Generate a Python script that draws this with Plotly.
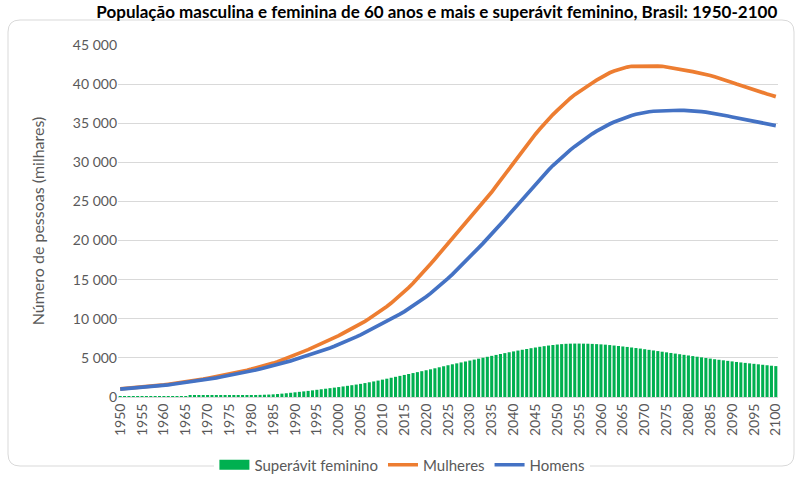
import plotly.graph_objects as go

years = list(range(1950, 2101))

mulheres = [
    1050, 1090, 1130, 1180, 1230, 1280, 1330, 1380, 1440, 1500,
    1560, 1630, 1700, 1770, 1840, 1920, 2000, 2090, 2190, 2290,
    2400, 2500, 2600, 2700, 2800, 2920, 3040, 3160, 3290, 3420,
    3560, 3700, 3850, 4000, 4160, 4330, 4520, 4720, 4930, 5150,
    5380, 5600, 5830, 6060, 6300, 6540, 6790, 7040, 7300, 7570,
    7850, 8150, 8430, 8730, 9040, 9350, 9680, 10030, 10390, 10760,
    11150, 11570, 12010, 12470, 12950, 13450, 13980, 14540, 15120, 15720,
    16350, 17000, 17650, 18300, 18950, 19600, 20250, 20900, 21550, 22200,
    22850, 23500, 24150, 24800, 25480, 26200, 26950, 27700, 28450, 29200,
    29950, 30700, 31450, 32200, 32900, 33600, 34250, 34900, 35500, 36100,
    36650, 37200, 37700, 38200, 38650, 39050, 39450, 39800, 40150, 40500,
    40850, 41150, 41450, 41680, 41880, 42020, 42180, 42280, 42300, 42300,
    42300, 42300, 42300, 42300, 42280, 42200, 42100, 42000, 41900, 41800,
    41700, 41600, 41500, 41400, 41250, 41100, 40930, 40780, 40600, 40420,
    40220, 40020, 39820, 39640, 39480, 39300, 39110, 38920, 38740, 38580,
    38400,
]

homens = [
    1000, 1040, 1080, 1130, 1170, 1220, 1270, 1320, 1380, 1440,
    1500, 1560, 1630, 1700, 1770, 1840, 1920, 2000, 2090, 2180,
    2270, 2360, 2450, 2550, 2650, 2760, 2870, 2980, 3100, 3220,
    3340, 3460, 3590, 3720, 3860, 4000, 4150, 4300, 4460, 4620,
    4790, 4960, 5130, 5310, 5490, 5680, 5870, 6070, 6270, 6480,
    6700, 6930, 7170, 7420, 7680, 7950, 8230, 8520, 8800, 9090,
    9370, 9660, 9960, 10270, 10590, 10920, 11270, 11630, 12010, 12400,
    12810, 13240, 13690, 14160, 14650, 15160, 15680, 16220, 16770, 17340,
    17920, 18500, 19070, 19640, 20220, 20800, 21400, 22050, 22700, 23350,
    24000, 24650, 25300, 25950, 26600, 27230, 27850, 28450, 29030, 29590,
    30120, 30630, 31120, 31590, 32040, 32470, 32880, 33270, 33640, 33990,
    34320, 34620, 34900, 35160, 35400, 35620, 35820, 36000, 36150, 36280,
    36390, 36470, 36530, 36570, 36600, 36630, 36650, 36660, 36660, 36650,
    36630, 36600, 36550, 36490, 36420, 36340, 36250, 36150, 36040, 35920,
    35800, 35680, 35560, 35440, 35330, 35220, 35110, 35000, 34900, 34800,
    34700,
]

superavit = [
    90, 90, 95, 95, 100, 100, 100, 105, 105, 110,
    110, 115, 115, 120, 120, 125, 130, 135, 140, 145,
    150, 155, 160, 165, 170, 180, 190, 200, 210, 220,
    230, 250, 270, 290, 310, 340, 380, 430, 480, 540,
    600, 660, 720, 780, 850, 920, 990, 1060, 1130, 1200,
    1270, 1350, 1430, 1510, 1590, 1680, 1780, 1880, 1990, 2100,
    2220, 2340, 2460, 2580, 2700, 2820, 2940, 3060, 3180, 3300,
    3420, 3540, 3670, 3800, 3930, 4060, 4180, 4300, 4420, 4540,
    4660, 4780, 4900, 5020, 5140, 5260, 5380, 5500, 5610, 5720,
    5830, 5940, 6040, 6140, 6240, 6330, 6420, 6500, 6580, 6650,
    6710, 6760, 6800, 6820, 6830, 6830, 6820, 6810, 6790, 6760,
    6730, 6690, 6640, 6580, 6520, 6460, 6400, 6330, 6260, 6190,
    6110, 6030, 5950, 5870, 5790, 5710, 5630, 5550, 5470, 5390,
    5310, 5230, 5150, 5070, 4990, 4910, 4830, 4760, 4690, 4620,
    4550, 4480, 4420, 4360, 4300, 4240, 4180, 4120, 4060, 4000,
    3950,
]

tick_years = list(range(1950, 2101, 5))

FONT = "Lato"
GRAY = "#595959"
GREEN = "#00B050"

fig = go.Figure()
fig.add_trace(go.Bar(x=years, y=superavit, name="Superávit feminino",
                     marker=dict(color=GREEN, line=dict(width=0)),
                     showlegend=False))
# legend entry for the bars (wide swatch like the original)
fig.add_trace(go.Scatter(x=[None], y=[None], name="Superávit feminino",
                         mode="lines", line=dict(color=GREEN, width=10),
                         legendrank=1))
fig.add_trace(go.Scatter(x=years, y=mulheres, name="Mulheres", mode="lines",
                         line=dict(color="#ED7D31", width=3.7), legendrank=2))
fig.add_trace(go.Scatter(x=years, y=homens, name="Homens", mode="lines",
                         line=dict(color="#4472C4", width=3.7), legendrank=3))

L, R, T, B = 118, 22, 45, 103
W = 800 - L - R
H = 500 - T - B

def px(x):
    return (x - L) / W

def py(y):
    return (500 - B - y) / H

x0, x1, y0, y1 = px(8), px(794), py(20), py(466)
rx, ry = 12 / W, 12 / H
path = (f"M {x0+rx},{y0} L {x1-rx},{y0} Q {x1},{y0} {x1},{y0-ry} "
        f"L {x1},{y1+ry} Q {x1},{y1} {x1-rx},{y1} L {x0+rx},{y1} "
        f"Q {x0},{y1} {x0},{y1+ry} L {x0},{y0-ry} Q {x0},{y0} {x0+rx},{y0} Z")

fig.update_layout(
    width=800, height=500,
    margin=dict(l=L, r=R, t=T, b=B, autoexpand=False),
    paper_bgcolor="white", plot_bgcolor="white",
    separators=", ",
    font=dict(family=FONT, color=GRAY, size=14),
    title=dict(text="<b>População masculina e feminina de 60 anos e mais e superávit feminino, Brasil: 1950-2100</b>",
               x=0.546, xanchor="center", y=0.976, yanchor="middle",
               font=dict(family=FONT, size=17, color="black")),
    bargap=0.3,
    showlegend=True,
    legend=dict(orientation="h", x=0.503, xref="container", xanchor="center",
                y=1 - 465 / 500, yref="container", yanchor="middle",
                font=dict(size=15, color=GRAY), traceorder="normal"),
    shapes=[dict(type="path", path=path, xref="paper", yref="paper",
                 line=dict(color="#D9D9D9", width=1), layer="below")],
)
fig.update_xaxes(range=[1949.5, 2100.5], tickvals=tick_years,
                 ticktext=[str(y) for y in tick_years], tickangle=-90,
                 showgrid=False, showline=True, linecolor="#D9D9D9",
                 ticks="", tickfont=dict(size=14, color=GRAY), zeroline=False,
                 automargin=False)
fig.update_yaxes(range=[0, 45000], dtick=5000, tickformat=",d",
                 showgrid=True, gridcolor="#D9D9D9", zeroline=False,
                 showline=False, ticks="", ticklen=0, automargin=False,
                 tickfont=dict(size=14, color=GRAY),
                 title=dict(text="Número de pessoas (milhares)",
                            font=dict(size=16, color=GRAY), standoff=24))

fig.write_html("out.html", config={"displayModeBar": False},
               post_script="document.body.style.margin='0';document.body.style.overflow='hidden';")
